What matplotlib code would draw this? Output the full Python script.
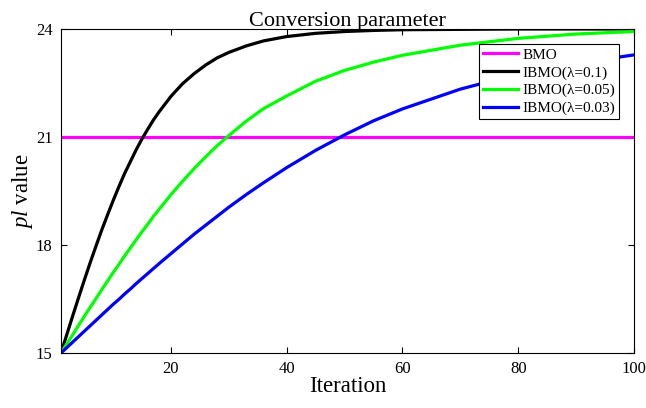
#!/usr/bin/env python3

import matplotlib
matplotlib.use("Agg")
import matplotlib.pyplot as plt


# values
iterations = [1, 2, 3, 4, 5, 6, 7, 8, 9, 10, 11, 12, 13, 14, 15, 16, 17, 18,
              20, 22, 24, 26, 28, 30, 33, 36, 40, 45, 50, 55, 60, 70, 80, 90, 100]
ibmo_01 = [15.00, 15.51, 16.02, 16.52, 17.01, 17.49, 17.95, 18.40, 18.82,
           19.23, 19.62, 19.99, 20.32, 20.65, 20.95, 21.22, 21.48, 21.71,
           22.13, 22.48, 22.76, 23.00, 23.20, 23.35, 23.53, 23.67, 23.79,
           23.88, 23.93, 23.96, 23.98, 23.99, 24.00, 24.00, 24.00]
ibmo_005 = [15.00, 15.25, 15.50, 15.76, 16.01, 16.26, 16.50, 16.75, 16.99,
            17.23, 17.46, 17.70, 17.92, 18.15, 18.37, 18.58, 18.80, 19.00,
            19.40, 19.77, 20.12, 20.45, 20.76, 21.04, 21.44, 21.79, 22.14,
            22.55, 22.85, 23.08, 23.27, 23.55, 23.74, 23.86, 23.93]
ibmo_003 = [15.00, 15.15, 15.30, 15.45, 15.60, 15.75, 15.90, 16.05, 16.20,
            16.35, 16.49, 16.64, 16.78, 16.93, 17.07, 17.21, 17.35, 17.49,
            17.76, 18.03, 18.30, 18.55, 18.80, 19.05, 19.40, 19.73, 20.15,
            20.63, 21.06, 21.45, 21.78, 22.33, 22.75, 23.05, 23.28]
bmo_iters = [1, 100]
bmo_values = [21, 21]

series_labels = ["BMO", "IBMO(λ=0.1)", "IBMO(λ=0.05)", "IBMO(λ=0.03)"]
x_ticks = [20, 40, 60, 80, 100]
y_ticks = [15, 18, 21, 24]


def main():
    plt.rcParams["font.family"] = ["Liberation Serif", "DejaVu Serif"]
    plt.rcParams["mathtext.fontset"] = "custom"
    plt.rcParams["mathtext.rm"] = "Liberation Serif"
    plt.rcParams["mathtext.it"] = "Liberation Serif:italic"

    fig = plt.figure(figsize=(6.46, 4.08), dpi=100)
    ax = fig.add_axes([61 / 646, 1 - 353 / 408, (634 - 61) / 646, (353 - 29) / 408])

    lw = 2.3
    ax.plot(bmo_iters, bmo_values, color="#FF00FF", linewidth=lw, label=series_labels[0])
    ax.plot(iterations, ibmo_01, color="black", linewidth=lw, label=series_labels[1])
    ax.plot(iterations, ibmo_005, color="#00FF00", linewidth=lw, label=series_labels[2])
    ax.plot(iterations, ibmo_003, color="#0000FF", linewidth=lw, label=series_labels[3])

    ax.set_xlim(1, 100)
    ax.set_ylim(15, 24)
    ax.set_xticks(x_ticks)
    ax.set_yticks(y_ticks)
    ax.tick_params(direction="in", top=True, right=True, labelsize=12,
                   length=4, width=0.8, pad=6)
    for spine in ax.spines.values():
        spine.set_linewidth(0.8)

    ax.set_title("Conversion parameter", fontsize=16, pad=2)
    ax.set_xlabel("Iteration", fontsize=16.5, labelpad=-1)
    ax.set_ylabel("$pl$ value", fontsize=16.5, labelpad=1)

    leg = ax.legend(loc="upper right", bbox_to_anchor=(619 / 646, 1 - 44 / 408),
                    bbox_transform=fig.transFigure, borderaxespad=0,
                    fontsize=11, handlelength=2.3, handletextpad=0.3,
                    labelspacing=0.27, borderpad=0.25, fancybox=False,
                    framealpha=1, edgecolor="black")
    leg.get_frame().set_linewidth(0.8)

    fig.savefig("out.png", dpi=100)
    plt.close(fig)


if __name__ == "__main__":
    main()
